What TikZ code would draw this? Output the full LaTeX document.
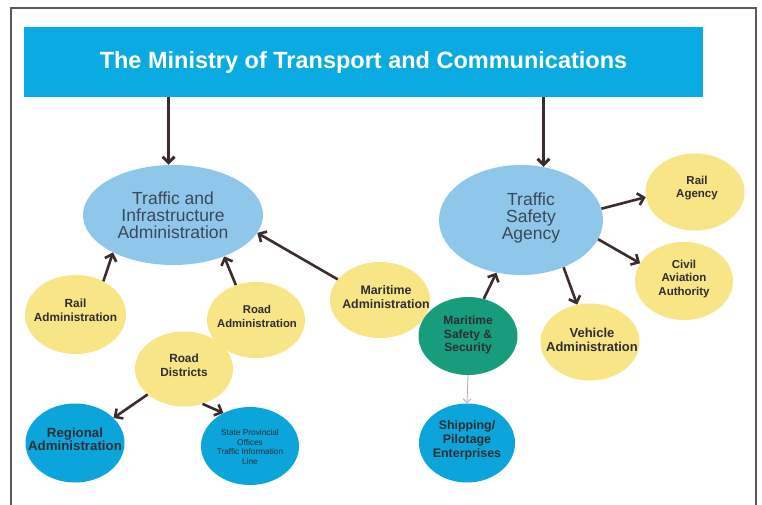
\documentclass[tikz,border=0pt]{standalone}
\usepackage{fontspec}
\setmainfont{Liberation Sans}
\usetikzlibrary{shapes.geometric,arrows.meta}

\definecolor{headblue}{HTML}{0AAAE2}
\definecolor{paleblue}{HTML}{8EC7EA}
\definecolor{paleyellow}{HTML}{F8E585}
\definecolor{seagreen}{HTML}{179D7C}
\definecolor{deepblue}{HTML}{0BA5DC}
\definecolor{arrowbrown}{HTML}{3C2D2D}
\definecolor{slatetext}{HTML}{3A4859}
\definecolor{darktext}{HTML}{2E2E33}
\definecolor{framegray}{HTML}{5A5A5A}
\definecolor{thinarrow}{HTML}{B8A2A8}

\tikzset{
  bubble/.style={ellipse, inner sep=0pt, minimum width=99pt, minimum height=78pt},
  agency/.style={bubble, fill=paleblue},
  office/.style={bubble, fill=paleyellow},
  firm/.style={bubble, fill=deepblue},
  guard/.style={bubble, fill=seagreen},
  caption/.style={inner sep=0pt, align=center, text=darktext},
  bigcaption/.style={caption, text=slatetext, font=\fontsize{17.5}{17}\selectfont},
  fs/.style 2 args={font=\fontsize{#1}{#2}\selectfont\bfseries},
  link/.style={draw=arrowbrown, line width=2.6pt,
    -{Straight Barb[length=6pt,width=12pt]}},
  mainlink/.style={link, line width=3pt},
  faintlink/.style={draw=thinarrow, line width=0.8pt,
    -{Straight Barb[length=4pt,width=8pt]}}
}

\begin{document}
\begin{tikzpicture}[x=1pt,y=-1pt]
  \useasboundingbox (0,0) rectangle (762,505);
  \fill[white] (0,0) rectangle (762,505);

  % outer frame, open towards the bottom edge
  \draw[framegray, line width=1.2pt] (11,512) -- (11,8) -- (756,8) -- (756,512);

  % ministry header
  \node[fill=headblue, text=white, minimum width=679pt, minimum height=70pt,
        inner sep=0pt, font=\fontsize{23.5}{24}\selectfont\bfseries]
        (ministry) at (363.5,62) {The Ministry of Transport and Communications};

  % ellipses
  \node[agency, minimum width=180pt, minimum height=100pt] (tia) at (173,215) {};
  \node[agency, minimum width=164pt, minimum height=110pt] (tsa) at (521,220) {};
  \node[office, minimum width=101pt, minimum height=79pt] (railadm) at (75.5,314.5) {};
  \node[office, minimum width=98pt, minimum height=76pt] (roadadm) at (256,320) {};
  \node[office, minimum width=100pt, minimum height=76pt] (maradm) at (380,300) {};
  \node[office, minimum width=98pt, minimum height=75pt] (districts) at (184,369) {};
  \node[firm, minimum width=99pt, minimum height=79pt] (regional) at (75,443) {};
  \node[firm, minimum width=98pt, minimum height=78pt] (provincial) at (250,446) {};
  \node[guard, minimum width=99pt, minimum height=78pt] (marsafety) at (468,336) {};
  \node[firm, minimum width=96pt, minimum height=79pt] (shipping) at (467,443) {};
  \node[office, minimum width=99pt, minimum height=77pt] (railagency) at (695,192) {};
  \node[office, minimum width=98pt, minimum height=78pt] (aviation) at (684,281) {};
  \node[office, minimum width=99pt, minimum height=77pt] (vehicle) at (590,342) {};

  % captions
  \node[bigcaption] (tia-txt) at (173,215) {Traffic and\\Infrastructure\\Administration};
  \node[bigcaption] (tsa-txt) at (531,218) {Traffic\\Safety\\Agency};
  \node[caption, fs={11.8}{14}] (railadm-txt) at (75.5,310) {Rail\\Administration};
  \node[caption, fs={11.3}{14}] (roadadm-txt) at (257,316) {Road\\Administration};
  \node[caption, fs={12.4}{13.5}] (maradm-txt) at (386,297) {Maritime\\Administration};
  \node[caption, fs={11.8}{14}] (districts-txt) at (184,365) {Road\\Districts};
  \node[caption, fs={13.3}{12.5}] (regional-txt) at (75,439) {Regional\\Administration};
  \node[caption, font=\fontsize{8.3}{9.6}\selectfont] (provincial-txt) at (250,447)
        {State Provincial\\Offices\\Traffic Information\\Line};
  \node[caption, fs={12}{13.5}] (marsafety-txt) at (468,335) {Maritime\\Safety \&\\Security};
  \node[caption, fs={12.4}{14}] (shipping-txt) at (467,440) {Shipping/\\Pilotage\\Enterprises};
  \node[caption, fs={11.5}{13.5}] (railagency-txt) at (697,188) {Rail\\Agency};
  \node[caption, fs={11.5}{13.5}] (aviation-txt) at (684,279) {Civil\\Aviation\\Authority};
  \node[caption, fs={13}{14}] (vehicle-txt) at (592,340) {Vehicle\\Administration};

  % ministry to its two agencies
  \draw[mainlink] (tia.95 |- ministry.south) -- (tia.95);
  \draw[mainlink] (tsa.67 |- ministry.south) -- (tsa.67);

  % reporting lines
  \draw[link] (railadm.50) -- (tia.212);
  \draw[link] (roadadm.120) -- (tia.321);
  \draw[link] (maradm.154) -- (tia.348);
  \draw[link] (marsafety.67) -- (tsa.245);
  \draw[link] (tsa.8) -- (railagency.186);
  \draw[link] (tsa.346) -- (aviation.158);
  \draw[link] (tsa.312) -- (vehicle.109);
  \draw[link] (districts.215) -- (regional.33);
  \draw[link] (districts.298) -- (provincial.129);
  \draw[faintlink] (marsafety.south) -- (shipping.north);
\end{tikzpicture}
\end{document}
